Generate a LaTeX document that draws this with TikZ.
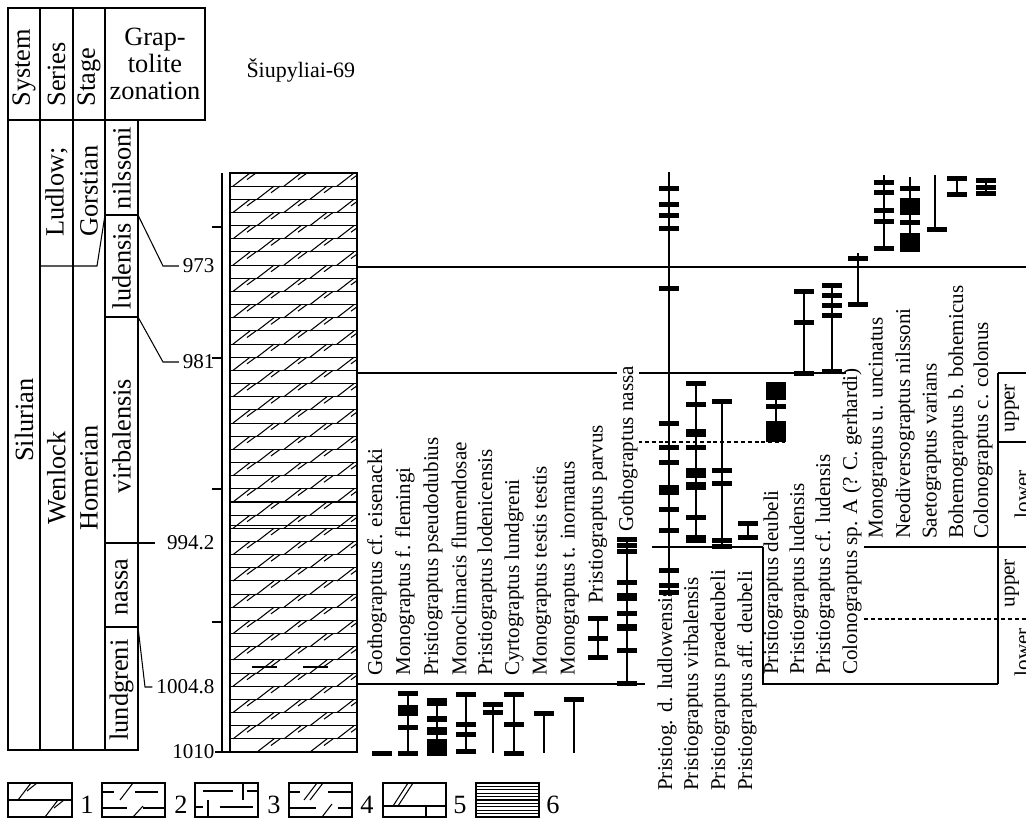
\documentclass[tikz,border=0pt]{standalone}
\usepackage{fontspec}
\setmainfont{Liberation Serif}
\usetikzlibrary{positioning}

\newcommand{\bigf}{\fontsize{15}{15.5}\selectfont}
\newcommand{\smf}{\fontsize{12}{13}\selectfont}
% occurrence marks of the range chart
\newcommand{\rbar}[2]{\fill (#1-10,#2-2.5) rectangle (#1+10,#2+2.5);}
\newcommand{\rblock}[3]{\fill (#1-10,#2) rectangle (#1+10,#3);}
\newcommand{\rline}[3]{\draw[rng] (#1,#2) -- (#1,#3);}

\begin{document}
\begin{tikzpicture}[x=0.02cm, y=-0.02cm, line width=0.6pt,
  rng/.style={line width=0.7pt},
  hdr/.style={rotate=90, anchor=west, font=\bigf, inner sep=0pt},
  zonetext/.style={rotate=90, font=\bigf, inner sep=0pt},
  depthlbl/.style={anchor=east, font=\smf, inner sep=0pt},
  taxon/.style={rotate=90, anchor=west, font=\smf, inner sep=1pt},
  subst/.style={rotate=90, font=\smf, inner sep=0pt},
  legnum/.style={font=\bigf, inner sep=0pt},
  dsh/.style={dash pattern=on 2.3pt off 1.6pt}]

\useasboundingbox (0,0) rectangle (1026,821);
\clip (0,0) rectangle (1026,821);

% stratigraphic table
\draw (8,8) rectangle (205,120);
\draw (8,120) -- (8,750) -- (138,750) -- (138,120);
\foreach \x in {40,73,105} \draw (\x,8) -- (\x,750);
\draw (40,266) -- (97,266) -- (105,215);
\foreach \y in {215,317,627} \draw (105,\y) -- (138,\y);
\draw (105,543) -- (155,543);

\node[hdr] (h-sys) at (24,107) {System};
\node[hdr] (h-ser) at (56.5,107) {Series};
\node[hdr] (h-stg) at (89,107) {Stage};
\node[align=center, font=\bigf, inner sep=0pt] (h-zon) at (155,64) {Grap-\\tolite\\zonation};

\node[zonetext] (sys) at (24,420) {Silurian};
\node[zonetext] (ser-l) at (56.5,192) {Ludlow;};
\node[zonetext] (ser-w) at (56.5,478) {Wenlock};
\node[zonetext] (stg-g) at (89,191) {Gorstian};
\node[zonetext] (stg-h) at (89,478) {Homerian};
\node[zonetext] (z-nil) at (121.5,168) {nilssoni};
\node[zonetext] (z-lud) at (121.5,266) {ludensis};
\node[zonetext] (z-vir) at (121.5,436) {virbalensis};
\node[zonetext] (z-nas) at (121.5,587) {nassa};
\node[zonetext] (z-lun) at (121.5,690) {lundgreni};

% depths
\node[depthlbl] (d973) at (215,266) {973};
\node[depthlbl] (d981) at (215,362) {981};
\node[depthlbl] (d994) at (215,543) {994.2};
\node[depthlbl] (d1004) at (215,687) {1004.8};
\node[depthlbl] (d1010) at (215,752) {1010};
\draw[shorten >=2pt] (138,215) -- (163,266) -- (d973.west);
\draw[shorten >=2pt] (138,317) -- (163,362) -- (d981.west);
\draw[shorten >=2pt] (138,627) -- (145,687) -- (d1004.west);
\draw (d1010.east) -- (230,752);

\draw[line width=0.9pt] (222,173) -- (222,752);
\foreach \y in {227,358,489,622} \draw (212,\y) -- (222,\y);

\node[anchor=base west, font=\fontsize{12.5}{13}\selectfont, inner sep=0pt] (well) at (246,77) {Šiupyliai-69};

% lithology column
\begin{scope}
\clip (230,173) rectangle (357,752);
\foreach \k in {0,...,43} {
  \pgfmathsetmacro\yt{173+13.16*\k}
  \pgfmathsetmacro\yb{\yt+13.16}
  \pgfmathsetmacro\ym{\yt+6.58}
  \draw (230,\yb) -- (357,\yb);
  \pgfmathtruncatemacro\odd{mod(\k,2)}
  \ifnum\odd=0 \def\xs{233,284,337}\else\def\xs{257,310}\fi
  \foreach \x in \xs {
    \draw (\x,\yb) -- (\x+17,\yt);
    \draw (\x+14,\ym) -- (\x+23,\yt);
  }
}
\draw (230,525.3) -- (357,525.3);
\draw (252,667) -- (277,667);
\draw (303,667) -- (328,667);
\end{scope}
\draw (230,173) rectangle (357,752);

% correlation lines
\draw (357,267) -- (1026,267);
\draw (357,373) -- (846,373);
\draw (652,547) -- (763,547);
\draw (864,547) -- (1026,547);
\draw (357,684) -- (645,684);
\draw (763,547) -- (763,684) -- (998,684);
\draw (998,373) -- (998,684);
\draw (998,373) -- (1026,373);
\draw (998,442) -- (1026,442);
\draw[dsh] (638,442) -- (785,442);
\draw[dsh] (864,619) -- (1026,619);

% ranges
\rbar{382}{753}
\rline{408}{693}{753} \rbar{408}{693} \rblock{408}{705}{716} \rbar{408}{727} \rbar{408}{753}
\rline{437}{702}{755} \rblock{437}{698}{706} \rblock{437}{716}{722} \rblock{437}{727}{735} \rblock{437}{739}{756}
\rline{466}{694}{751} \rbar{466}{694} \rbar{466}{724} \rbar{466}{734} \rbar{466}{751}
\rline{493}{703}{753} \rbar{493}{704} \rbar{493}{712}
\rline{514}{693}{753} \rbar{514}{694} \rbar{514}{724} \rbar{514}{753}
\rline{544}{713}{753} \rbar{544}{713}
\rline{574}{699}{753} \rbar{574}{699}
\rline{598}{618}{657} \rbar{598}{618} \rbar{598}{638} \rbar{598}{657}
\rline{627}{539}{683}
\foreach \y in {539,545,551,582,613,650,683} {\rbar{627}{\y}}
\rblock{627}{593}{601} \rblock{627}{624}{631}

\rline{669}{172}{596}
\foreach \y in {188,204,215,228,288,423,447,462,509,530,570,585,592} {\rbar{669}{\y}}
\rblock{669}{485}{495}
\rline{696}{383}{541}
\foreach \y in {383,404,447,517} {\rbar{696}{\y}}
\rblock{696}{429}{437} \rblock{696}{468}{478} \rblock{696}{482}{490} \rblock{696}{535}{543}
\rline{722}{401}{546}
\foreach \y in {401,470,483,540,546} {\rbar{722}{\y}}
\rline{748}{523}{537} \rbar{748}{523} \rbar{748}{537}
\rline{776}{382}{442} \rblock{776}{382}{400} \rbar{776}{406} \rblock{776}{421}{442}
\rline{804}{291}{374}
\foreach \y in {291,322,373} {\rbar{804}{\y}}
\rline{832}{285}{371}
\foreach \y in {285,295,305,315,371} {\rbar{832}{\y}}
\rline{858}{253}{304} \rbar{858}{258} \rbar{858}{304}

\rline{884}{175}{248}
\foreach \y in {182,192,210,221,248} {\rbar{884}{\y}}
\rline{910}{177}{250} \rbar{910}{188} \rblock{910}{198}{215} \rbar{910}{222} \rblock{910}{233}{252}
\rline{935}{175}{229} \rbar{937}{229}
\rline{957}{178}{194} \rbar{957}{178} \rbar{957}{194}
\rline{986}{180}{193}
\foreach \y in {180,187,193} {\rbar{986}{\y}}

% taxa
\node[taxon] (t-eis) at (377,678) {Gothograptus cf. eisenacki};
\node[taxon] (t-fle) at (405,678) {Monograptus f. flemingi};
\node[taxon] (t-pse) at (433,678) {Pristiograptus pseudodubius};
\node[taxon] (t-flu) at (459,678) {Monoclimacis flumendosae};
\node[taxon] (t-lod) at (487,678) {Pristiograptus lodenicensis};
\node[taxon] (t-lun) at (514,678) {Cyrtograptus lundgreni};
\node[taxon] (t-tes) at (542,678) {Monograptus testis testis};
\node[taxon] (t-ino) at (570,678) {Monograptus t. inornatus};
\node[taxon] (t-par) at (598,606) {Pristiograptus parvus};
\node[taxon, fill=white] (t-nas) at (628,534) {Gothograptus nassa};

\node[taxon] (t-ldl) at (667,793) {Pristiog. d. ludlowensis};
\node[taxon] (t-vir) at (693,793) {Pristiograptus virbalensis};
\node[taxon] (t-pra) at (720,793) {Pristiograptus praedeubeli};
\node[taxon] (t-aff) at (747,793) {Pristiograptus aff. deubeli};

\node[taxon] (t-deu) at (773,677) {Pristiograptus deubeli};
\node[taxon] (t-lds) at (799,677) {Pristiograptus ludensis};
\node[taxon] (t-cfl) at (825,677) {Pristiograptus cf. ludensis};
\node[taxon] (t-col) at (852,677) {Colonograptus sp. A (? C. gerhardi)};

\node[taxon] (t-unc) at (878,541) {Monograptus u. uncinatus};
\node[taxon] (t-nil) at (905,541) {Neodiversograptus nilssoni};
\node[taxon] (t-var) at (932,541) {Saetograptus varians};
\node[taxon] (t-boh) at (958,541) {Bohemograptus b. bohemicus};
\node[taxon] (t-clc) at (983,541) {Colonograptus c. colonus};

\node[subst] (u1) at (1012,408) {upper};
\node[subst] (l1) at (1022,494) {lower};
\node[subst] (u2) at (1012,583) {upper};
\node[subst] (l2) at (1022,652) {lower};

% legend
\draw (8,783) rectangle (72,817);
\draw (8,800) -- (72,800);
\draw (18,800) -- (31,783); \draw (27,791) -- (37,783);
\draw (45,817) -- (58,800); \draw (54,808) -- (64,800);
\node[legnum] (n1) at (87,805) {1};

\draw (102,783) rectangle (165,817);
\draw (102,792) -- (114,792); \draw (120,800) -- (133,783); \draw (135,792) -- (158,792);
\draw (102,808) -- (127,808); \draw (133,817) -- (143,806); \draw (143,808) -- (165,808);
\node[legnum] (n2) at (181,805) {2};

\draw (195,783) rectangle (258,817);
\draw (203,791) -- (233,791); \draw (243,783) -- (243,800); \draw (247,791) -- (258,791);
\draw (195,807) -- (203,807); \draw (208,800) -- (208,817); \draw (220,807) -- (253,807);
\node[legnum] (n3) at (274,805) {3};

\draw (289,783) rectangle (352,817);
\draw (289,792) -- (300,792); \draw (304,800) -- (317,783); \draw (310,800) -- (323,783); \draw (328,792) -- (352,792);
\draw (289,808) -- (316,808); \draw (322,817) -- (332,804); \draw (338,808) -- (352,808);
\node[legnum] (n4) at (367,805) {4};

\draw (383,783) rectangle (446,817);
\draw (383,806) -- (446,806); \draw (426,806) -- (426,817);
\draw (393,806) -- (408,783); \draw (398,806) -- (413,783);
\node[legnum] (n5) at (460,805) {5};

\draw (476,783) rectangle (539,817);
\foreach \k in {1,...,9} \draw (476,783+3.4*\k) -- (539,783+3.4*\k);
\node[legnum] (n6) at (553,805) {6};

\end{tikzpicture}
\end{document}
